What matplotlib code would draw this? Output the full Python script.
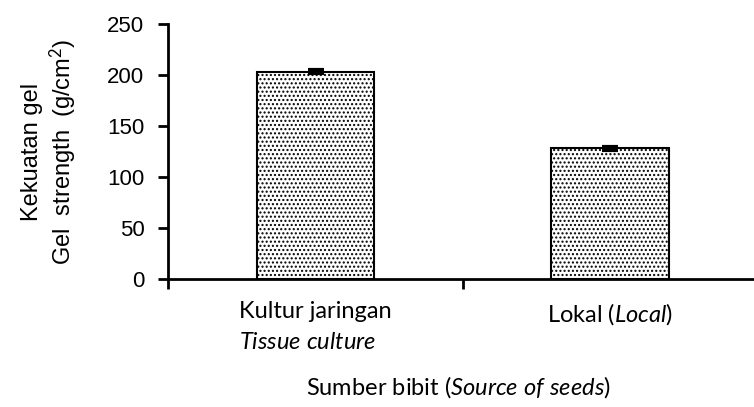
import numpy as np
import matplotlib
matplotlib.use("Agg")
import matplotlib.pyplot as plt

# data
categories = ["Kultur jaringan\n$\\mathit{Tissue\\ culture}$", "Lokal ($\\mathit{Local}$)"]
gel_strength = [203, 128]
gel_err = [1.5, 1.5]
yticks = [0, 50, 100, 150, 200, 250]

plt.rcParams['mathtext.fontset'] = 'custom'
plt.rcParams['mathtext.rm'] = 'Lato'
plt.rcParams['mathtext.it'] = 'Lato:italic'
plt.rcParams['hatch.color'] = '#9a9a9a'
plt.rcParams['hatch.linewidth'] = 1.0

fig = plt.figure(figsize=(7.54, 4.07), dpi=100)
ax = fig.add_axes([168 / 754, 1 - 279 / 407, (758 - 168) / 754, 255 / 407])

x = np.arange(1, len(gel_strength) + 1)
ax.bar(x, gel_strength, width=0.4, color='white', edgecolor='black',
       linewidth=1.5, hatch='....', zorder=2)
ax.errorbar(x, gel_strength, yerr=gel_err, fmt='none', ecolor='black',
            elinewidth=2, capsize=6, capthick=3, zorder=3)

ax.set_xlim(0.5, 2.5)
ax.set_ylim(0, 250)
ax.set_yticks(yticks)
ax.set_yticklabels([str(v) for v in yticks], family='Liberation Sans', fontsize=16)

# ticks between categories, labels at centres
ax.set_xticks([0.5, 1.5, 2.5])
ax.set_xticklabels([])
ax.set_xticks(x, minor=True)
ax.set_xticklabels(categories, minor=True, family='Lato', fontsize=17,
                   ha='center', multialignment='left', linespacing=1.6)
ax.tick_params(axis='x', which='minor', length=0, pad=16)
ax.tick_params(axis='x', which='major', length=7, width=2, direction='out')
ax.tick_params(axis='y', length=7, width=2, direction='out', pad=10)

for s in ['top', 'right']:
    ax.spines[s].set_visible(False)
for s in ['left', 'bottom']:
    ax.spines[s].set_linewidth(2)

ax.set_ylabel("Kekuatan gel\nGel  strength  (g/cm$^2$)", family='Liberation Sans',
              fontsize=17, labelpad=20, linespacing=1.2)
ax.set_xlabel("Sumber bibit ($\\mathit{Source\\ of\\ seeds}$)", family='Lato',
              fontsize=17, labelpad=15)
ax.xaxis.label.set_x(0.492)

fig.savefig("out.png", dpi=100)
